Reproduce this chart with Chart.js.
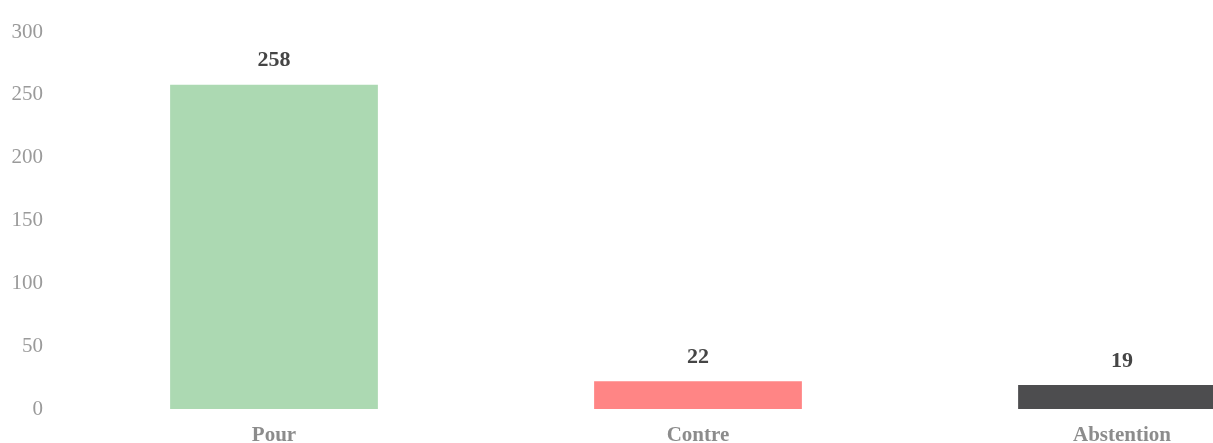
<!DOCTYPE html>
<html>
<head>
<meta charset="utf-8">
<script src="https://cdn.jsdelivr.net/npm/chart.js@4"></script>
<style>
  html, body { margin: 0; padding: 0; overflow: hidden; background: #fff; }
  #wrap { width: 1340px; height: 443px; }
</style>
</head>
<body>
<div id="wrap"><canvas id="chart"></canvas></div>
<script>
const labels = ['Pour', 'Contre', 'Abstention'];
const votes = [258, 22, 19];
const barColors = ['#acd9b2', '#ff8585', '#4d4d4f'];
const yTicks = [0, 50, 100, 150, 200, 250, 300];

const serif = "'Palatino Linotype', 'Book Antiqua', Palatino, 'Liberation Serif', serif";

// draws the value above each bar
const valueLabels = {
  id: 'valueLabels',
  afterDatasetsDraw(chart) {
    const ctx = chart.ctx;
    const meta = chart.getDatasetMeta(0);
    ctx.save();
    ctx.font = 'bold 22px ' + serif;
    ctx.fillStyle = '#454545';
    ctx.textAlign = 'center';
    ctx.textBaseline = 'middle';
    meta.data.forEach((bar, i) => {
      ctx.fillText(votes[i], bar.x, bar.y - 24);
    });
    ctx.restore();
  }
};

new Chart(document.getElementById('chart'), {
  type: 'bar',
  data: {
    labels: labels,
    datasets: [{
      data: votes,
      backgroundColor: barColors,
      categoryPercentage: 1,
      barPercentage: 0.49
    }]
  },
  options: {
    responsive: true,
    maintainAspectRatio: false,
    animation: false,
    layout: { padding: { top: 32, left: 0, right: 6, bottom: 0 } },
    plugins: { legend: { display: false }, tooltip: { enabled: false } },
    scales: {
      x: {
        grid: { display: false },
        border: { display: false },
        afterFit: (axis) => { axis.height = 34; },
        ticks: { color: '#8c8c8c', font: { family: serif, size: 21, weight: 'bold' }, padding: 6 }
      },
      y: {
        min: 0,
        max: 300,
        afterBuildTicks: (axis) => { axis.ticks = yTicks.map(v => ({ value: v })); },
        afterFit: (axis) => { axis.width = 62; },
        grid: { display: false },
        border: { display: false },
        ticks: { color: '#9a9a9a', font: { family: serif, size: 21 }, padding: 11 }
      }
    }
  },
  plugins: [valueLabels]
});
</script>
</body>
</html>
